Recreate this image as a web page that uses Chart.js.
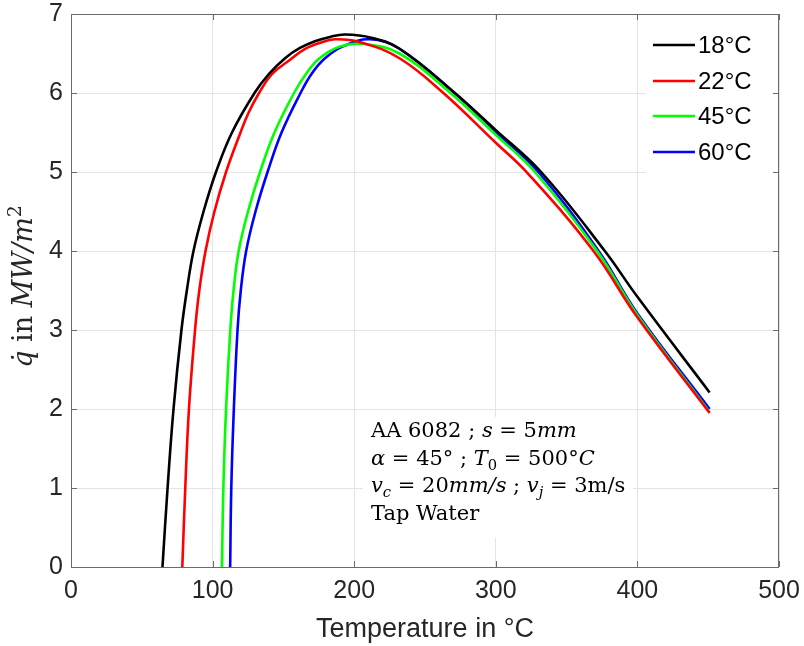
<!DOCTYPE html>
<html>
<head>
<meta charset="utf-8">
<script src="https://cdn.jsdelivr.net/npm/chart.js@4.4.1/dist/chart.umd.min.js"></script>
<style>
html,body{margin:0;padding:0;background:#fff;}
#c{display:block;}
</style>
</head>
<body>
<canvas id="c" width="804" height="646"></canvas>
<script>
// ---- data ----
const seriesLabels = ['18°C', '22°C', '45°C', '60°C'];
const seriesColors = ['#000000', '#ff0000', '#00ff00', '#0000ff'];

const t18 = [64.6, 68.2, 72.4, 78.0, 81.8, 86.5, 93.6, 102.4, 113.7, 129.6, 140.2, 151.8, 161.7, 172.3, 182.9, 193.5, 212, 232, 271, 300, 332, 377, 400, 451];
const q18 = [0, 1, 2, 3, 3.5, 4, 4.5, 5, 5.5, 6, 6.25, 6.45, 6.57, 6.655, 6.71, 6.74, 6.70, 6.56, 6.0, 5.53, 5.0, 4.0, 3.42, 2.21];

const t22 = [78.6, 80.7, 83.3, 87.6, 90.6, 95.0, 101.3, 109.5, 119.7, 125.4, 132.8, 141.9, 154.7, 164.5, 175.1, 186.4, 205, 232, 263, 300, 322.7, 369, 400, 451];
const q22 = [0, 1, 2, 3, 3.5, 4, 4.5, 5, 5.5, 5.75, 6, 6.24, 6.42, 6.55, 6.63, 6.68, 6.64, 6.44, 6.0, 5.37, 4.98, 4.0, 3.16, 1.95];

const t45 = [106.6, 107.6, 109.5, 112.5, 114.8, 118.4, 125.0, 133.5, 143.7, 157.5, 166.3, 175.5, 190, 207.6, 232, 268, 300, 327.6, 371.5, 400, 451];
const q45 = [0, 1, 2, 3, 3.5, 4, 4.5, 5, 5.5, 6, 6.25, 6.44, 6.59, 6.62, 6.5, 6.0, 5.47, 5.0, 4.0, 3.19, 1.96];

const t60 = [112.4, 113.2, 115.0, 117.6, 119.9, 123.7, 130.3, 138.8, 148.7, 162.1, 170.2, 179.4, 192.1, 211, 232, 271, 300, 330, 372.6, 400, 451];
const q60 = [0, 1, 2, 3, 3.5, 4, 4.5, 5, 5.5, 6, 6.25, 6.44, 6.59, 6.68, 6.56, 6.0, 5.51, 5.0, 4.0, 3.21, 2.0];

const xTicks = [0, 100, 200, 300, 400, 500];
const yTicks = [0, 1, 2, 3, 4, 5, 6, 7];

const xTitle = 'Temperature in °C';
const annotationLines = [
  [['AA 6082 ; ', 0], ['s', 1], [' = 5', 0], ['mm', 1]],
  [['α', 1], [' = 45° ; ', 0], ['T', 1], ['0', 0, 'sub'], [' = 500°', 0], ['C', 1]],
  [['v', 1], ['c', 1, 'sub'], [' = 20', 0], ['mm/s', 1], [' ; ', 0], ['v', 1], ['j', 1, 'sub'], [' = 3m/s', 0]],
  [['Tap Water', 0]]
];

// ---- build datasets ----
function pts(xs, ys) { return xs.map((v, i) => ({ x: v, y: ys[i] })); }
const allX = [t18, t22, t45, t60];
const allY = [q18, q22, q45, q60];
const datasets = seriesLabels.map((lab, i) => ({
  label: lab,
  data: pts(allX[i], allY[i]),
  borderColor: seriesColors[i],
  backgroundColor: seriesColors[i],
  borderWidth: 2.6,
  pointRadius: 0,
  fill: false,
  tension: 0.4
}));

const SANS = "'Liberation Sans', Arial, sans-serif";
const SERIF = "'DejaVu Serif', 'Liberation Serif', serif";

function drawSegments(ctx, segs, x, y, size) {
  let cx = x;
  for (const s of segs) {
    const [txt, it, mode] = s;
    let fs = size, dy = 0;
    if (mode === 'sub') { fs = size * 0.7; dy = size * 0.22; }
    if (mode === 'sup') { fs = size * 0.7; dy = -size * 0.4; }
    ctx.font = (it ? 'italic ' : '') + fs + 'px ' + SERIF;
    ctx.fillText(txt, cx, y + dy);
    cx += ctx.measureText(txt).width;
  }
  return cx - x;
}
function measureSegments(ctx, segs, size) {
  let w = 0;
  for (const s of segs) {
    const [txt, it, mode] = s;
    let fs = (mode === 'sub' || mode === 'sup') ? size * 0.7 : size;
    ctx.font = (it ? 'italic ' : '') + fs + 'px ' + SERIF;
    w += ctx.measureText(txt).width;
  }
  return w;
}

const deco = {
  id: 'deco',
  afterDraw(chart) {
    const { ctx, chartArea: a, scales: { x, y } } = chart;
    ctx.save();

    // annotation text box
    const fsA = 21;
    let maxW = 0;
    annotationLines.forEach(ln => { maxW = Math.max(maxW, measureSegments(ctx, ln, fsA)); });
    ctx.fillStyle = '#ffffff';
    ctx.fillRect(363, 417, maxW + 16, 121);
    ctx.fillStyle = '#000000';
    ctx.textBaseline = 'alphabetic';
    ctx.textAlign = 'left';
    const baseY = [437, 465, 492, 520];
    annotationLines.forEach((ln, i) => drawSegments(ctx, ln, 371, baseY[i], fsA));

    // legend box
    ctx.fillStyle = '#ffffff';
    ctx.fillRect(646, a.top + 1, a.right - 646 - 1, 162);
    const legY = [45, 81, 116, 152];
    datasets.forEach((d, i) => {
      ctx.strokeStyle = d.borderColor;
      ctx.lineWidth = 2.6;
      ctx.beginPath();
      ctx.moveTo(653, legY[i]);
      ctx.lineTo(695, legY[i]);
      ctx.stroke();
      ctx.fillStyle = '#000000';
      ctx.font = '24px ' + SANS;
      ctx.textBaseline = 'middle';
      ctx.fillText(d.label, 698, legY[i] + 1);
    });

    // axes box
    ctx.strokeStyle = '#6a6a6a';
    ctx.lineWidth = 1;
    ctx.strokeRect(Math.round(a.left) + 0.5, Math.round(a.top) + 0.5, Math.round(a.width) - 1, Math.round(a.height));
    // inward ticks
    ctx.beginPath();
    xTicks.forEach(v => {
      const px = Math.round(x.getPixelForValue(v)) + 0.5;
      ctx.moveTo(px, a.bottom); ctx.lineTo(px, a.bottom - 6);
      ctx.moveTo(px, a.top); ctx.lineTo(px, a.top + 6);
    });
    yTicks.forEach(v => {
      const py = Math.round(y.getPixelForValue(v)) + 0.5;
      ctx.moveTo(a.left, py); ctx.lineTo(a.left + 6, py);
      ctx.moveTo(a.right, py); ctx.lineTo(a.right - 6, py);
    });
    ctx.stroke();

    // x title
    ctx.fillStyle = '#262626';
    ctx.font = '27px ' + SANS;
    ctx.textAlign = 'center';
    ctx.textBaseline = 'alphabetic';
    ctx.fillText(xTitle, (a.left + a.right) / 2, 637);

    // y title (rotated)
    const ySegs = [['q\u0307', 1], [' in ', 0], ['MW/m', 1], ['2', 0, 'sup']];
    ctx.save();
    ctx.translate(32, (a.top + a.bottom) / 2 - 4);
    ctx.rotate(-Math.PI / 2);
    ctx.textAlign = 'left';
    const w = measureSegments(ctx, ySegs, 27);
    drawSegments(ctx, ySegs, -w / 2, 0, 27);
    ctx.restore();

    ctx.restore();
  }
};

new Chart(document.getElementById('c'), {
  type: 'line',
  data: { datasets },
  plugins: [deco],
  options: {
    responsive: false,
    animation: false,
    layout: { padding: { top: 14, right: 25, left: 0, bottom: 0 } },
    plugins: { legend: { display: false }, tooltip: { enabled: false } },
    scales: {
      x: {
        type: 'linear', min: 0, max: 500,
        afterBuildTicks(s) { s.ticks = xTicks.map(v => ({ value: v })); },
        ticks: { font: { family: SANS, size: 25 }, color: '#262626', padding: 9, maxRotation: 0 },
        grid: { color: '#e4e4e4', drawTicks: false },
        border: { display: false },
        afterFit(s) { s.height = 79; s.paddingLeft = 0; s.paddingRight = 0; }
      },
      y: {
        type: 'linear', min: 0, max: 7,
        afterBuildTicks(s) { s.ticks = yTicks.map(v => ({ value: v })); },
        ticks: { font: { family: SANS, size: 25 }, color: '#262626', padding: 8 },
        grid: { color: '#e4e4e4', drawTicks: false },
        border: { display: false },
        afterFit(s) { s.width = 71; s.paddingTop = 0; s.paddingBottom = 0; }
      }
    }
  }
});
</script>
</body>
</html>
